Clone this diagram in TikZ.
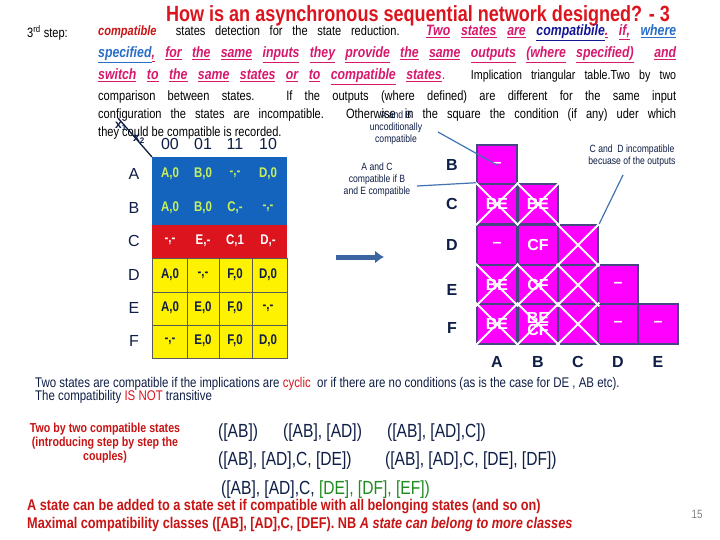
\documentclass[tikz,border=0pt]{standalone}
\usepackage{fontspec}
\setmainfont{Liberation Sans}
\newfontfamily\nar[FakeStretch=0.82]{Liberation Sans}
\usetikzlibrary{arrows.meta}
\definecolor{tred}{RGB}{220,20,30}
\definecolor{dred}{RGB}{200,20,20}
\definecolor{pk}{RGB}{215,25,110}
\definecolor{dblue}{RGB}{20,20,150}
\definecolor{lblue}{RGB}{40,110,200}
\definecolor{navy}{RGB}{15,30,70}
\definecolor{tblue}{RGB}{20,100,190}
\definecolor{tgreen}{RGB}{200,240,90}
\definecolor{mag}{RGB}{255,0,255}
\definecolor{bord}{RGB}{70,70,130}
\definecolor{cgreen}{RGB}{30,140,30}
\definecolor{arrb}{RGB}{60,100,160}
\newcommand{\pu}[1]{\textcolor{pk}{\underline{#1}}}
\begin{document}
\begin{tikzpicture}[x=1pt,y=-1pt,
  body/.style={anchor=west,inner sep=0,font=\nar\fontsize{15}{15}\selectfont},
  reg/.style={anchor=west,inner sep=0,font=\nar\fontsize{13.5}{14}\selectfont},
  cell/.style={draw=bord,line width=2.5pt,fill=mag,minimum width=40pt,minimum height=40pt,inner sep=0,font=\bfseries\fontsize{16}{16}\selectfont,text=white,align=center},
  lbl/.style={font=\bfseries\fontsize{16}{16}\selectfont,text=navy},
  small/.style={font=\nar\fontsize{10.5}{12}\selectfont,text=navy,align=center},
  tc/.style={font=\nar\bfseries\fontsize{14}{14}\selectfont},
  hd/.style={font=\fontsize{16}{16}\selectfont,text=navy},
  call/.style={draw=lblue!70!gray,line width=1.2pt}]
\useasboundingbox (0,0) rectangle (720,540);
\fill[white] (0,0) rectangle (720,540);
\node[inner sep=0,text=tred,font=\nar\bfseries\fontsize{22}{22}\selectfont] (title) at (418,16) {How is an asynchronous sequential network designed? - 3};
\node[reg] (st) at (27,33) {3\textsuperscript{rd} step:};
\node[body] (l1) at (98,33) {\makebox[578pt][s]{{\fontsize{13.5}{14}\selectfont\textcolor{dred}{\bfseries\itshape compatible}\ \ states detection for the state reduction.} {\bfseries\itshape\pu{Two} \pu{states} \pu{are} \textcolor{dblue}{\underline{compatibile}}\pu{.} \pu{if,} \textcolor{lblue}{\underline{where}}}}};
\node[body] (l2) at (98,55) {\makebox[578pt][s]{\bfseries\itshape\textcolor{lblue}{\underline{specified}}\pu{,} \pu{for} \pu{the} \pu{same} \pu{inputs} \pu{they} \pu{provide} \pu{the} \pu{same} \pu{outputs} \pu{(where} \pu{specified)}\ \ \pu{and}}};
\node[body] (l3) at (98,77) {\makebox[578pt][s]{{\bfseries\itshape\pu{switch} \pu{to} \pu{the} \pu{same} \pu{states} \pu{or} \pu{to} \pu{compatible} \pu{states}}\textcolor{pk}{.} {\fontsize{13}{14}\selectfont Implication triangular table.Two by two}}};
\node[reg] (l4) at (98,97) {\makebox[578pt][s]{comparison between states. If the outputs (where defined) are different for the same input}};
\node[reg] (l5) at (98,115) {\makebox[578pt][s]{configuration the states are incompatible. Otherwise in the square the condition (if any) uder which}};
\node[reg] (l6) at (98,133) {they could be compatible is recorded.};
% state table
\fill[tblue] (152,157) rectangle (287,225);
\fill[tred] (152,225) rectangle (287,258);
\fill[yellow] (152,258) rectangle (287,358);
\draw[gray!70!black,line width=1pt] (152,258) rectangle (287,358);
\foreach \x in {187,219,252} \draw[gray!70!black,line width=1pt] (\x,258) -- (\x,358);
\foreach \y in {292,325} \draw[gray!70!black,line width=1pt] (152,\y) -- (287,\y);
\coordinate (dg1) at (118,118); \coordinate (dg2) at (152,157);
\draw[navy,line width=1.3pt] (dg1) -- (dg2);
\node[font=\fontsize{12}{12}\selectfont\bfseries,text=navy] (x1) at (121,126) {x\textsubscript{1}};
\node[font=\fontsize{12}{12}\selectfont\bfseries,text=navy] (x2) at (139,139) {x\textsubscript{2}};
\foreach \t/\x in {00/170,01/203,11/235,10/268} \node[hd] (h\t) at (\x,144) {\t};
\foreach \r/\y in {A/174,B/208,C/241,D/275,E/308,F/341} \node[hd] (r\r) at (134,\y) {\r};
\foreach \x/\t [count=\i] in {170/{A,0},203/{B,0},235/{-,-},268/{D,0}} \node[tc,text=tgreen] (a\i) at (\x,174) {\t};
\foreach \x/\t [count=\i] in {170/{A,0},203/{B,0},235/{C,-},268/{-,-}} \node[tc,text=tgreen] (b\i) at (\x,208) {\t};
\foreach \x/\t [count=\i] in {170/{-,-},203/{E,-},235/{C,1},268/{D,-}} \node[tc,text=white] (c\i) at (\x,241) {\t};
\foreach \x/\t [count=\i] in {170/{A,0},203/{-,-},235/{F,0},268/{D,0}} \node[tc,text=navy] (d\i) at (\x,275) {\t};
\foreach \x/\t [count=\i] in {170/{A,0},203/{E,0},235/{F,0},268/{-,-}} \node[tc,text=navy] (e\i) at (\x,308) {\t};
\foreach \x/\t [count=\i] in {170/{-,-},203/{E,0},235/{F,0},268/{D,0}} \node[tc,text=navy] (f\i) at (\x,341) {\t};
% arrow
\coordinate (ar1) at (336,257); \coordinate (ar2) at (384,257);
\draw[arrb,line width=5pt,-{Latex[length=9pt,width=13pt]}] (ar1) -- (ar2);
% implication table
\foreach \r/\y in {B/165,C/204,D/245,E/290,F/328} \node[lbl] (t\r) at (452,\y) {\r};
\foreach \c/\x in {A/497,B/538,C/578,D/618,E/658} \node[lbl] (u\c) at (\x,362) {\c};
\node[cell] (AB) at (497,165) {--};
\node[cell] (AC) at (497,204) {BE};
\node[cell] (BC) at (538,204) {BE};
\node[cell] (AD) at (497,245) {--};
\node[cell] (BD) at (538,245) {CF};
\node[cell] (CD) at (578,245) {};
\node[cell] (AE) at (497,285) {BE};
\node[cell] (BE) at (538,285) {CF};
\node[cell] (CE) at (578,285) {};
\node[cell] (DE) at (618,285) {--};
\node[cell] (AF) at (497,324) {BE};
\node[cell] (BF) at (538,324) {BE\\[-4pt]CF};
\node[cell] (CF) at (578,324) {};
\node[cell] (DF) at (618,324) {--};
\node[cell] (EF) at (658,324) {--};
\foreach \n in {AC,BC,CD,AE,BE,CE,AF,BF,CF}
  \draw[white,line width=1.8pt] (\n.north west) -- (\n.south east) (\n.north east) -- (\n.south west);
% callouts
\node[small] (c1) at (396,128) {A and B\\uncoditionally\\compatible};
\draw[call] (438,132) -- (AB.center);
\node[small] (c2) at (377,180) {A and C\\compatible if B\\and E compatible};
\draw[call] (417,186) -- (AC.north west);
\node[small] (c3) at (632,156) {C and\ \ D incompatible\\becuase of the outputs};
\draw[call] (623,175) -- (CD.north east);
% bottom
\node[anchor=west,inner sep=0,text=navy,font=\nar\fontsize{14}{14}\selectfont] (bt1) at (35,384) {Two states are compatible if the implications are \textcolor{tred}{cyclic}\ \ or if there are no conditions (as is the case for DE , AB etc).};
\node[anchor=west,inner sep=0,text=navy,font=\nar\fontsize{14}{14}\selectfont] (bt2) at (35,397) {The compatibility \textcolor{tred}{IS NOT} transitive};
\node[text=dred,font=\nar\bfseries\fontsize{13}{14}\selectfont,align=center] (lr) at (105,443) {Two by two compatible states\\(introducing step by step the\\couples)};
\tikzset{st/.style={anchor=west,inner sep=0,text=navy,font=\nar\fontsize{19}{19}\selectfont}}
\node[st] (s1) at (218,433) {([AB])};
\node[st] (s2) at (283,433) {([AB], [AD])};
\node[st] (s3) at (387,433) {([AB], [AD],C])};
\node[st] (s4) at (218,461) {([AB], [AD],C, [DE])};
\node[st] (s5) at (385,461) {([AB], [AD],C, [DE], [DF])};
\node[st] (s6) at (221,490) {([AB], [AD],C, \textcolor{cgreen}{[DE], [DF], [EF])}};
\node[anchor=west,inner sep=0,text=dred,font=\nar\bfseries\fontsize{15.5}{16}\selectfont] (r1) at (27,507) {A state can be added to a state set if compatible with all belonging states (and so on)};
\node[anchor=west,inner sep=0,text=dred,font=\nar\bfseries\fontsize{15.5}{16}\selectfont] (r2) at (27,524) {Maximal compatibility classes ([AB], [AD],C, [DEF). NB \textit{A state can belong to more classes}};
\node[text=gray,font=\nar\fontsize{12}{12}\selectfont] (pg) at (697,514) {15};
\end{tikzpicture}
\end{document}
